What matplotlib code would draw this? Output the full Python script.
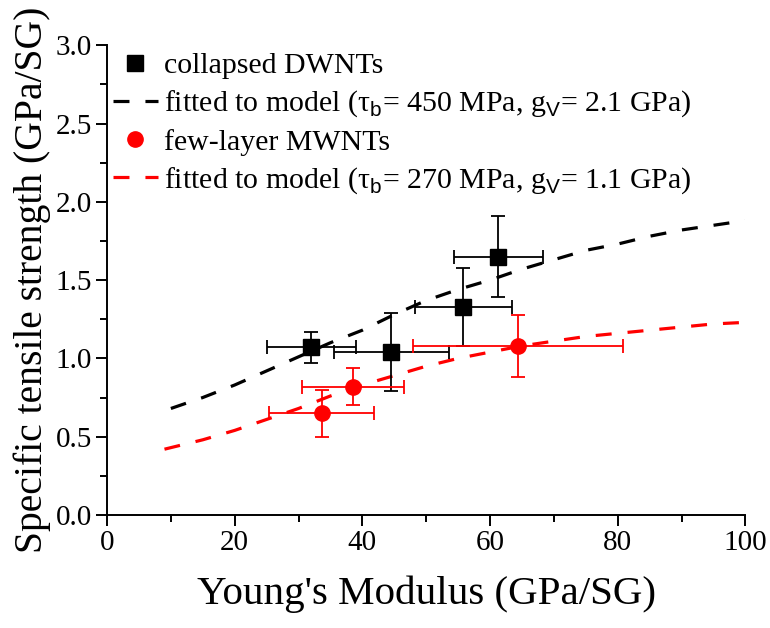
import matplotlib
matplotlib.use("Agg")
import matplotlib.pyplot as plt

plt.rcParams['font.family'] = ['Liberation Serif', 'DejaVu Serif']
plt.rcParams['mathtext.fontset'] = 'custom'
plt.rcParams['mathtext.sf'] = 'Liberation Sans'
plt.rcParams['mathtext.rm'] = 'Liberation Serif'

# collapsed DWNTs
dw_x = [32.0, 44.5, 55.8, 61.3]
dw_y = [1.07, 1.04, 1.33, 1.65]
dw_xerr = [7.0, 9.0, 7.6, 7.0]
dw_yerr = [0.10, 0.25, 0.25, 0.26]

# few-layer MWNTs
mw_x = [33.6, 38.6, 64.4]
mw_y = [0.65, 0.82, 1.08]
mw_xerr = [8.3, 8.0, 16.4]
mw_yerr = [0.15, 0.12, 0.20]

# model fits
fit_dw_x = [10, 15, 20, 25, 30, 35, 40, 45, 50, 55, 60, 65, 70, 75, 80, 85, 90, 95, 100]
fit_dw_y = [0.68, 0.75, 0.83, 0.92, 1.01, 1.10, 1.18, 1.28, 1.37, 1.44, 1.50, 1.57,
            1.63, 1.69, 1.73, 1.78, 1.82, 1.85, 1.88]
fit_mw_x = [9, 15, 20, 25, 30, 35, 40, 45, 50, 55, 60, 65, 70, 75, 80, 85, 90, 95, 100]
fit_mw_y = [0.42, 0.48, 0.54, 0.61, 0.68, 0.76, 0.83, 0.89, 0.95, 1.00, 1.04, 1.08,
            1.11, 1.14, 1.16, 1.18, 1.20, 1.22, 1.23]

fig = plt.figure(figsize=(7.7, 6.28), dpi=100)
ax = fig.add_axes([0.139, 0.180, 0.829, 0.748])

dash = (5.0, 5.0)
lw = 2.3

ax.errorbar(dw_x, dw_y, xerr=dw_xerr, yerr=dw_yerr, fmt='none', ecolor='black',
            elinewidth=1.3, capsize=5, capthick=1.3, zorder=3)
ax.errorbar(mw_x, mw_y, xerr=mw_xerr, yerr=mw_yerr, fmt='none', ecolor='red',
            elinewidth=1.3, capsize=5, capthick=1.3, zorder=3)

h1, = ax.plot(dw_x, dw_y, 's', color='black', markersize=11, linestyle='none', zorder=4)
h2, = ax.plot(fit_dw_x, fit_dw_y, color='black', linewidth=lw, dashes=dash, zorder=2)
h3, = ax.plot(mw_x, mw_y, 'o', color='red', markersize=11, linestyle='none', zorder=4)
h4, = ax.plot(fit_mw_x, fit_mw_y, color='red', linewidth=lw, dashes=dash, zorder=2)

labels = [
    'collapsed DWNTs',
    'fitted to model (τ$_\\mathsf{b}$= 450 MPa, g$_\\mathsf{V}$= 2.1 GPa)',
    'few-layer MWNTs',
    'fitted to model (τ$_\\mathsf{b}$= 270 MPa, g$_\\mathsf{V}$= 1.1 GPa)',
]
ax.legend([h1, h2, h3, h4], labels, loc='upper left', frameon=False, fontsize=21.5,
          handlelength=1.5, handletextpad=0.2, labelspacing=0.32,
          borderpad=0, borderaxespad=0, bbox_to_anchor=(0.009, 0.985))

ax.set_xlim(0, 100)
ax.set_ylim(0, 3.0)
ax.set_xticks([0, 20, 40, 60, 80, 100])
ax.set_xticks([10, 30, 50, 70, 90], minor=True)
ax.set_yticks([0.0, 0.5, 1.0, 1.5, 2.0, 2.5, 3.0])
ax.set_yticks([0.25, 0.75, 1.25, 1.75, 2.25, 2.75], minor=True)
ax.set_yticklabels(['0.0', '0.5', '1.0', '1.5', '2.0', '2.5', '3.0'])

for s in ['top', 'right']:
    ax.spines[s].set_visible(False)
for s in ['left', 'bottom']:
    ax.spines[s].set_linewidth(1.4)

ax.tick_params(which='major', direction='out', length=8, width=1.4, labelsize=21, pad=3)
ax.tick_params(which='minor', direction='out', length=5, width=1.4)

ax.set_xlabel("Young's Modulus (GPa/SG)", fontsize=29.5, labelpad=14)
ax.set_ylabel("Specific tensile strength (GPa/SG)", fontsize=28.5)
ax.yaxis.set_label_coords(-0.088, 0.5)

fig.savefig('out.png', dpi=100)
